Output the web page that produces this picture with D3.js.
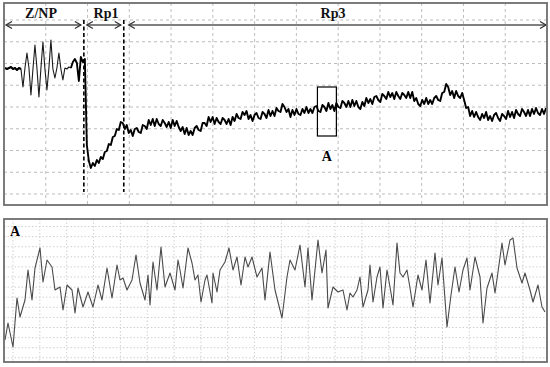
<!DOCTYPE html>
<html><head><meta charset="utf-8">
<script src="https://cdn.jsdelivr.net/npm/d3@7"></script>
<style>html,body{margin:0;padding:0;background:#fff;}svg{display:block;}</style>
</head><body>
<script>
// ---- data (top trace: evenly spaced samples, arbitrary units) ----
const topValues = [137,136,137,138,136,137,135,137,136,118,137,152,137,110,136,160,137,108,137,163,136,115,137,165,136,127,137,152,136,125,137,136,138,137,143,146,142,124,148,143,146,
60,44,37,42,39,45,42,48,46,53,54,61,60,68,69,76,75,83,
82,76,80,72,75,69,76,77,73,72,80,79,76,85,80,86,79,86,81,79,85,82,78,83,77,85,79,84,78,74,
78,71,77,70,74,70,77,79,75,74,82,82,79,88,83,88,81,87,83,81,87,85,81,86,80,88,84,91,87,86,
93,90,94,86,90,84,90,92,87,86,93,91,87,95,89,94,89,97,94,93,101,98,93,96,88,95,90,96,91,90,
96,92,98,92,96,92,98,99,94,93,100,98,94,102,96,100,94,102,98,97,104,102,98,104,98,105,99,104,98,96,
103,99,107,102,106,101,108,109,105,103,111,109,106,113,108,112,106,113,109,106,112,110,107,113,107,113,104,107,101,99,
105,101,107,101,105,101,107,109,105,104,112,113,121,118,110,114,107,114,109,107,112,105,97,98,89,94,88,93,88,85,
91,87,93,85,89,84,90,92,87,84,91,89,86,94,88,93,87,95,91,89,96,93,89,95,89,96,91,97,92,90,
96,91,97];

// phase labels and boundaries (sample index)
const phaseLabels = ["Z/NP","Rp1","Rp3"];
const phaseBounds = [0, 39.5, 59.5, 271];
const spikeEnd = 33; // last sample of the spiky Z/NP stretch
// zoom window "A" (sample index range, value range)
const boxA = {i0:156.5, i1:166, v0:69, v1:118};

// ---- data (bottom trace "A": time, value) ----
const aTime = [0,3,8,12,15,20,23,27,30,35,38,42,47,50,55,58,62,67,70,73,78,83,88,93,97,102,107,112,115,118,122,127,131,135,140,143,145,148,152,156,160,165,170,173,175,178,183,187,190,193,196,200,202,207,208,212,215,220,224,228,232,236,240,243,247,252,257,260,265,270,277,282,285,290,295,300,303,307,313,317,321,323,328,333,338,342,345,348,352,355,358,363,365,368,372,375,378,382,385,388,392,395,398,402,405,408,413,417,421,425,430,433,437,442,446,450,454,458,462,465,470,475,478,482,487,490,493,497,500,505,508,512,517,520,525,528,533,537,540];
const aValue = [22,39,15,64,45,62,92,62,94,114,80,102,95,72,75,52,77,72,49,74,55,70,55,77,62,94,64,97,82,84,72,82,107,79,62,87,57,100,72,115,75,89,72,102,92,74,114,99,82,87,60,82,87,59,89,70,92,100,114,92,105,77,105,95,105,85,94,62,110,72,44,85,102,92,117,75,114,62,122,89,112,54,75,70,72,52,69,65,72,85,55,72,97,60,85,95,54,92,75,57,119,89,85,92,74,55,87,72,102,59,109,77,104,35,67,95,70,92,104,72,105,85,39,74,89,69,90,119,97,122,124,94,79,89,72,60,77,55,50];

const W = 550, H = 367;
const svg = d3.select("body").append("svg").attr("width", W).attr("height", H)
  .style("font-family", "'Liberation Serif','Times New Roman',serif");

// ---------------- top panel ----------------
const T = {x0:4, x1:547, y0:3, y1:205};
const xTop = d3.scaleLinear().domain([0, topValues.length - 1]).range([T.x0 + 1, T.x1 - 1]);
const yTop = d3.scaleLinear().domain([0, 202]).range([T.y1, T.y0]);

const gTop = svg.append("g");
// grid
const topCols = 13;
for (let k = 1; k < topCols; k++) {
  const x = T.x0 + (T.x1 - T.x0) * k / topCols;
  gTop.append("line").attr("x1", x).attr("x2", x).attr("y1", T.y0).attr("y2", T.y1)
    .attr("stroke", "#bdbdbd").attr("stroke-width", 1).attr("stroke-dasharray", "3,3");
}
for (let k = 0; k < 9; k++) {
  const y = 20 + k * 21.75;
  gTop.append("line").attr("x1", T.x0).attr("x2", T.x1).attr("y1", y).attr("y2", y)
    .attr("stroke", "#bdbdbd").attr("stroke-width", 1).attr("stroke-dasharray", "3,3");
}
// trace
const lineTop = d3.line().x(d => xTop(d[0])).y(d => yTop(d[1]));
const topPts = topValues.map((v, i) => [i, v]);
gTop.append("path").datum(topPts.slice(0, spikeEnd + 1))
  .attr("d", lineTop).attr("fill", "none").attr("stroke", "#1a1a1a").attr("stroke-width", 1.1).attr("stroke-linejoin", "round");
gTop.append("path").datum(topPts.slice(0, 9))
  .attr("d", lineTop).attr("fill", "none").attr("stroke", "#000").attr("stroke-width", 2).attr("stroke-linejoin", "round");
gTop.append("path").datum(topPts.slice(spikeEnd))
  .attr("d", lineTop).attr("fill", "none").attr("stroke", "#000").attr("stroke-width", 1.9).attr("stroke-linejoin", "round");

// phase boundary dashed lines
[phaseBounds[1], phaseBounds[2]].forEach(b => {
  gTop.append("line").attr("x1", xTop(b)).attr("x2", xTop(b)).attr("y1", 20).attr("y2", 192)
    .attr("stroke", "#000").attr("stroke-width", 1.6).attr("stroke-dasharray", "4,2.5");
});

// arrows
function arrowHead(g, x, y, dir) {
  g.append("path").attr("d", `M${x - dir * 6},${y - 3.5} L${x},${y} L${x - dir * 6},${y + 3.5}`)
    .attr("fill", "none").attr("stroke", "#333").attr("stroke-width", 1.3);
}
const arrowY = 25;
const arrowSpans = [[T.x0 + 2, xTop(phaseBounds[1]) - 3], [xTop(phaseBounds[1]) + 3, xTop(phaseBounds[2]) - 3], [xTop(phaseBounds[2]) + 5, T.x1 - 1]];
arrowSpans.forEach(([a, b], i) => {
  gTop.append("line").attr("x1", a).attr("x2", b).attr("y1", arrowY).attr("y2", arrowY)
    .attr("stroke", "#555").attr("stroke-width", 1.6);
  arrowHead(gTop, a, arrowY, -1);
  arrowHead(gTop, b, arrowY, 1);
});
const labelX = [41, 106, 333];
phaseLabels.forEach((t, i) => {
  gTop.append("text").attr("x", labelX[i]).attr("y", 18).attr("text-anchor", "middle")
    .attr("font-size", 14).attr("font-weight", "bold").attr("fill", "#111").text(t);
});

// box A
gTop.append("rect").attr("x", xTop(boxA.i0)).attr("y", yTop(boxA.v1))
  .attr("width", xTop(boxA.i1) - xTop(boxA.i0)).attr("height", yTop(boxA.v0) - yTop(boxA.v1))
  .attr("fill", "none").attr("stroke", "#000").attr("stroke-width", 1.2);
gTop.append("text").attr("x", (xTop(boxA.i0) + xTop(boxA.i1)) / 2).attr("y", 161).attr("text-anchor", "middle")
  .attr("font-size", 14).attr("font-weight", "bold").text("A");

// frame
gTop.append("rect").attr("x", T.x0).attr("y", T.y0).attr("width", T.x1 - T.x0).attr("height", T.y1 - T.y0)
  .attr("fill", "none").attr("stroke", "#6e6e6e").attr("stroke-width", 1.8);

// ---------------- bottom panel ----------------
const B = {x0:4, x1:547, y0:219, y1:362};
const xB = d3.scaleLinear().domain([0, 540]).range([5, 545]);
const yB = d3.scaleLinear().domain([0, 143]).range([B.y1, B.y0]);
const gB = svg.append("g");
for (let k = 0; k < 20; k++) {
  const x = 13 + k * 26.84;
  gB.append("line").attr("x1", x).attr("x2", x).attr("y1", B.y0).attr("y2", B.y1)
    .attr("stroke", "#d0d0d0").attr("stroke-width", 1).attr("stroke-dasharray", "1.5,2");
}
for (let k = 0; k < 14; k++) {
  const y = 226.5 + k * 10.1;
  gB.append("line").attr("x1", B.x0).attr("x2", B.x1).attr("y1", y).attr("y2", y)
    .attr("stroke", "#d0d0d0").attr("stroke-width", 1).attr("stroke-dasharray", "1.5,2");
}
gB.append("path").datum(aTime.map((t, i) => [t, aValue[i]]))
  .attr("d", d3.line().x(d => xB(d[0])).y(d => yB(d[1])))
  .attr("fill", "none").attr("stroke", "#4a4a4a").attr("stroke-width", 1.1).attr("stroke-linejoin", "round");
gB.append("text").attr("x", 10).attr("y", 236).attr("font-size", 14).attr("font-weight", "bold").text("A");
gB.append("rect").attr("x", B.x0).attr("y", B.y0).attr("width", B.x1 - B.x0).attr("height", B.y1 - B.y0)
  .attr("fill", "none").attr("stroke", "#6e6e6e").attr("stroke-width", 1.8);
</script>
</body></html>
